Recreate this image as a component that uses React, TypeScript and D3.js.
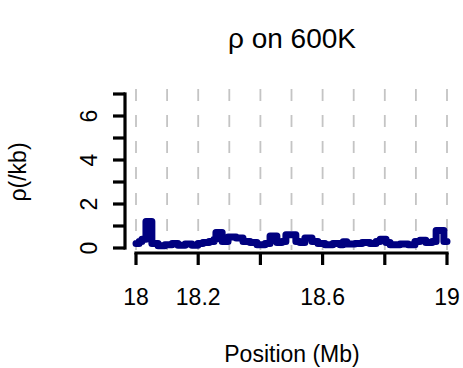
import React from "react";
import * as d3 from "d3";

// Recombination rate along the region, as step segments (start position in Mb, rate per kb)
const segStart: number[] = [
  18.0, 18.01, 18.019, 18.032, 18.051, 18.071, 18.093, 18.116, 18.135, 18.158,
  18.18, 18.199, 18.215, 18.235, 18.251, 18.257, 18.277, 18.296, 18.322, 18.344,
  18.367, 18.389, 18.415, 18.431, 18.453, 18.469, 18.482, 18.514, 18.527, 18.543,
  18.566, 18.585, 18.608, 18.633, 18.656, 18.666, 18.678, 18.704, 18.727, 18.752,
  18.772, 18.785, 18.804, 18.817, 18.849, 18.875, 18.897, 18.913, 18.932, 18.952,
  18.965, 18.99, 19.0,
];
const rho: number[] = [
  0.2, 0.3, 0.4, 1.2, 0.2, 0.1, 0.15, 0.2, 0.12, 0.18,
  0.12, 0.2, 0.25, 0.3, 0.4, 0.7, 0.3, 0.5, 0.45, 0.3,
  0.25, 0.15, 0.2, 0.55, 0.25, 0.3, 0.6, 0.3, 0.25, 0.45,
  0.3, 0.2, 0.15, 0.2, 0.15, 0.28, 0.18, 0.2, 0.25, 0.2,
  0.3, 0.4, 0.25, 0.15, 0.18, 0.15, 0.3, 0.35, 0.25, 0.3,
  0.8, 0.3, 0.3,
];

const xTicks: number[] = [18, 18.2, 18.4, 18.6, 18.8, 19];
const xTickLabels: string[] = ["18", "18.2", "", "18.6", "", "19"];
const yTicks: number[] = [0, 1, 2, 3, 4, 5, 6, 7];
const yTickLabels: string[] = ["0", "", "2", "", "4", "", "6", ""];
const gridPositions: number[] = d3.range(0, 11).map((i) => 18 + i / 10);

const W = 463;
const H = 368;
const FONT = "'Liberation Sans', Arial, sans-serif";

export default function App() {
  const x = d3.scaleLinear().domain([18, 19]).range([136, 447]);
  const y = d3.scaleLinear().domain([0, 7]).range([248, 94]);

  const pts: [number, number][] = segStart.map((p, i) => [p, rho[i]]);
  const line = d3
    .line<[number, number]>()
    .x((d) => x(d[0]))
    .y((d) => y(d[1]))
    .curve(d3.curveStepAfter);

  const axisY = 253;
  const axisX = 125;
  const tickLen = 12;

  return (
    <svg
      width={W}
      height={H}
      style={{ position: "absolute", left: 0, top: 0, background: "#fff" }}
      fontFamily={FONT}
    >
      <rect width={W} height={H} fill="#fff" />
      <text x={292} y={48} textAnchor="middle" fontSize={28} fill="#000">
        ρ on 600K
      </text>

      {gridPositions.map((g, i) => (
        <line
          key={"g" + i}
          x1={x(g)}
          x2={x(g)}
          y1={89}
          y2={250}
          stroke="#c4c4c4"
          strokeWidth={1.8}
          strokeDasharray="12 14"
        />
      ))}

      <path
        d={line(pts) ?? ""}
        fill="none"
        stroke="#000080"
        strokeWidth={7}
        strokeLinejoin="round"
        strokeLinecap="round"
      />

      {/* x axis */}
      <line x1={x(18)} x2={x(19)} y1={axisY} y2={axisY} stroke="#000" strokeWidth={3.2} strokeLinecap="square" />
      {xTicks.map((t, i) => (
        <g key={"xt" + i}>
          <line x1={x(t)} x2={x(t)} y1={axisY} y2={axisY + tickLen} stroke="#000" strokeWidth={3.2} />
          {xTickLabels[i] && (
            <text x={x(t)} y={305} textAnchor="middle" fontSize={23} fill="#000">
              {xTickLabels[i]}
            </text>
          )}
        </g>
      ))}
      <text x={292} y={362} textAnchor="middle" fontSize={23} fill="#000">
        Position (Mb)
      </text>

      {/* y axis */}
      <line x1={axisX} x2={axisX} y1={y(0)} y2={y(7)} stroke="#000" strokeWidth={3.2} strokeLinecap="square" />
      {yTicks.map((t, i) => (
        <g key={"yt" + i}>
          <line x1={axisX - tickLen} x2={axisX} y1={y(t)} y2={y(t)} stroke="#000" strokeWidth={3.2} />
          {yTickLabels[i] && (
            <text
              transform={`translate(${97},${y(t)}) rotate(-90)`}
              textAnchor="middle"
              fontSize={23}
              fill="#000"
            >
              {yTickLabels[i]}
            </text>
          )}
        </g>
      ))}
      <text
        transform={`translate(${26},${172}) rotate(-90)`}
        textAnchor="middle"
        fontSize={23}
        fill="#000"
      >
        ρ(/kb)
      </text>
    </svg>
  );
}
